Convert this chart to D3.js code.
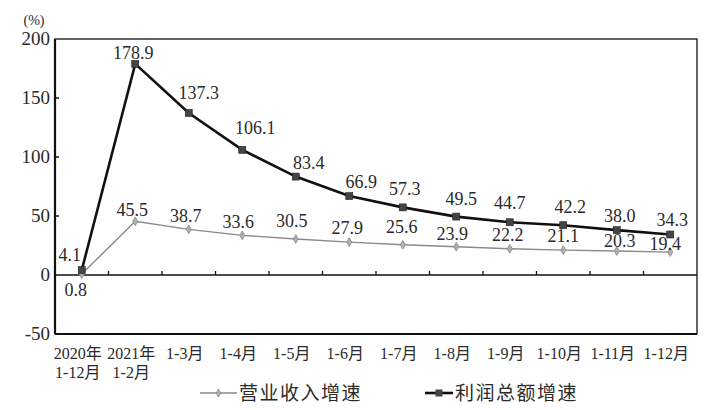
<!DOCTYPE html>
<html>
<head>
<meta charset="utf-8">
<script src="https://cdn.jsdelivr.net/npm/d3@7"></script>
<style>
  body { margin: 0; background: #fff; }
  svg text { fill: #2a2a2a; }
</style>
</head>
<body>
<div id="chart"></div>
<script>
// Data
const categories = ["2020年|1-12月", "2021年|1-2月", "1-3月", "1-4月", "1-5月", "1-6月",
  "1-7月", "1-8月", "1-9月", "1-10月", "1-11月", "1-12月"];
const revenue = [0.8, 45.5, 38.7, 33.6, 30.5, 27.9, 25.6, 23.9, 22.2, 21.1, 20.3, 19.4];
const profit = [4.1, 178.9, 137.3, 106.1, 83.4, 66.9, 57.3, 49.5, 44.7, 42.2, 38.0, 34.3];
const yTicks = [-50, 0, 50, 100, 150, 200];

// label nudges (px) relative to each point
const profitDx = [-12, -2, 10, 13, 13, 12, 2, 5, 0, 7, 3, 2];
const profitDy = [-15, -11, -20, -22, -14, -14, -18, -18, -19, -18, -14, -15];
const revenueDx = [-6, -3, -3, -4, -4, -2, -1, -4, -2, 0, 3, -5];
const revenueDy = [16, -11, -13, -13, -18, -14, -18, -13, -14, -14, -10, -8];

const width = 711, height = 410;
const plotLeft = 55, plotRight = 697, plotTop = 39, plotBottom = 334;
const serif = "'Liberation Serif', 'DejaVu Serif', 'Noto Sans CJK SC', serif";

const svg = d3.select("#chart")
  .append("svg")
    .attr("width", width)
    .attr("height", height)
    .attr("font-family", serif);

const x = d3.scalePoint()
  .domain(categories)
  .range([plotLeft, plotRight])
  .padding(0.5);
const y = d3.scaleLinear()
  .domain([-50, 200])
  .range([plotBottom, plotTop]);

// Frame
svg.append("rect")
  .attr("x", plotLeft).attr("y", plotTop)
  .attr("width", plotRight - plotLeft).attr("height", plotBottom - plotTop)
  .attr("fill", "none").attr("stroke", "#111").attr("stroke-width", 1.3);
svg.append("line")
  .attr("x1", plotLeft).attr("x2", plotLeft).attr("y1", plotTop).attr("y2", plotBottom)
  .attr("stroke", "#111").attr("stroke-width", 2.2);
svg.append("line")
  .attr("x1", plotLeft).attr("x2", plotRight).attr("y1", plotBottom).attr("y2", plotBottom)
  .attr("stroke", "#111").attr("stroke-width", 2);

// Zero line
svg.append("line")
  .attr("x1", plotLeft).attr("x2", plotRight).attr("y1", y(0)).attr("y2", y(0))
  .attr("stroke", "#111").attr("stroke-width", 1.6);

// Y ticks and labels
svg.selectAll(".ytick")
  .data(yTicks.filter(d => d > 0 && d < 200))
  .join("line")
    .attr("class", "ytick")
    .attr("x1", plotLeft).attr("x2", plotLeft + 4)
    .attr("y1", d => y(d)).attr("y2", d => y(d))
    .attr("stroke", "#111").attr("stroke-width", 1.5);
svg.selectAll(".ylabel")
  .data(yTicks)
  .join("text")
    .attr("class", "ylabel")
    .attr("x", plotLeft - 5)
    .attr("y", d => y(d) + 6)
    .attr("text-anchor", "end")
    .style("font-size", "19px")
    .text(d => d);

svg.append("text")
  .attr("x", 34).attr("y", 25)
  .attr("text-anchor", "middle")
  .style("font-size", "14px")
  .text("(%)");

// X ticks between categories, on the zero line
const step = x.step();
svg.selectAll(".xtick")
  .data(categories.slice(1))
  .join("line")
    .attr("class", "xtick")
    .attr("x1", d => x(d) - step / 2).attr("x2", d => x(d) - step / 2)
    .attr("y1", y(0)).attr("y2", y(0) - 4)
    .attr("stroke", "#111").attr("stroke-width", 1.3);

// X labels
const xl = svg.selectAll(".xlabel")
  .data(categories)
  .join("text")
    .attr("class", "xlabel")
    .attr("text-anchor", "middle")
    .style("font-size", "16px");
xl.each(function(d) {
  const parts = d.split("|");
  const t = d3.select(this);
  parts.forEach((p, i) => {
    t.append("tspan")
      .attr("x", x(d) - 4)
      .attr("y", 359 + i * 19)
      .text(p);
  });
});

// Lines
const line = vals => d3.line()
  .x((d, i) => x(categories[i]))
  .y(d => y(d))(vals);

svg.append("path")
  .attr("d", line(revenue))
  .attr("fill", "none").attr("stroke", "#8a8a8a").attr("stroke-width", 1.4);
svg.append("path")
  .attr("d", line(profit))
  .attr("fill", "none").attr("stroke", "#111").attr("stroke-width", 2.6);

// Markers
svg.selectAll(".rmark")
  .data(revenue)
  .join("path")
    .attr("class", "rmark")
    .attr("d", d3.symbol(d3.symbolDiamond, 22))
    .attr("transform", (d, i) => `translate(${x(categories[i])},${y(d)})`)
    .attr("fill", "#b0b0b0").attr("stroke", "#888").attr("stroke-width", 0.8);
svg.selectAll(".pmark")
  .data(profit)
  .join("rect")
    .attr("class", "pmark")
    .attr("x", (d, i) => x(categories[i]) - 3.5)
    .attr("y", d => y(d) - 3.5)
    .attr("width", 7).attr("height", 7)
    .attr("fill", "#444").attr("stroke", "#222").attr("stroke-width", 0.6);

// Value labels
svg.selectAll(".plabel")
  .data(profit)
  .join("text")
    .attr("class", "plabel")
    .attr("x", (d, i) => x(categories[i]) + profitDx[i])
    .attr("y", (d, i) => y(d) + profitDy[i] + 6)
    .attr("text-anchor", "middle")
    .style("font-size", "18px")
    .text(d => d.toFixed(1));
svg.selectAll(".rlabel")
  .data(revenue)
  .join("text")
    .attr("class", "rlabel")
    .attr("x", (d, i) => x(categories[i]) + revenueDx[i])
    .attr("y", (d, i) => y(d) + revenueDy[i] + 6)
    .attr("text-anchor", "middle")
    .style("font-size", "18px")
    .text(d => d.toFixed(1));

// Legend
const legend = [
  { name: "营业收入增速", x1: 200, x2: 237, color: "#8a8a8a", w: 1.4 },
  { name: "利润总额增速", x1: 425, x2: 453, color: "#111", w: 2.6 }
];
legend.forEach((l, i) => {
  svg.append("line")
    .attr("x1", l.x1).attr("x2", l.x2).attr("y1", 393).attr("y2", 393)
    .attr("stroke", l.color).attr("stroke-width", l.w);
  const cx = (l.x1 + l.x2) / 2;
  if (i === 0) {
    svg.append("path")
      .attr("d", d3.symbol(d3.symbolDiamond, 18))
      .attr("transform", `translate(${cx},393)`)
      .attr("fill", "#b0b0b0").attr("stroke", "#888").attr("stroke-width", 0.8);
  } else {
    svg.append("rect")
      .attr("x", cx - 3.5).attr("y", 389.5).attr("width", 7).attr("height", 7)
      .attr("fill", "#444");
  }
  svg.append("text")
    .attr("x", l.x2 + 2).attr("y", 400)
    .style("font-size", "19px")
    .style("letter-spacing", "1.5px")
    .text(l.name);
});
</script>
</body>
</html>
